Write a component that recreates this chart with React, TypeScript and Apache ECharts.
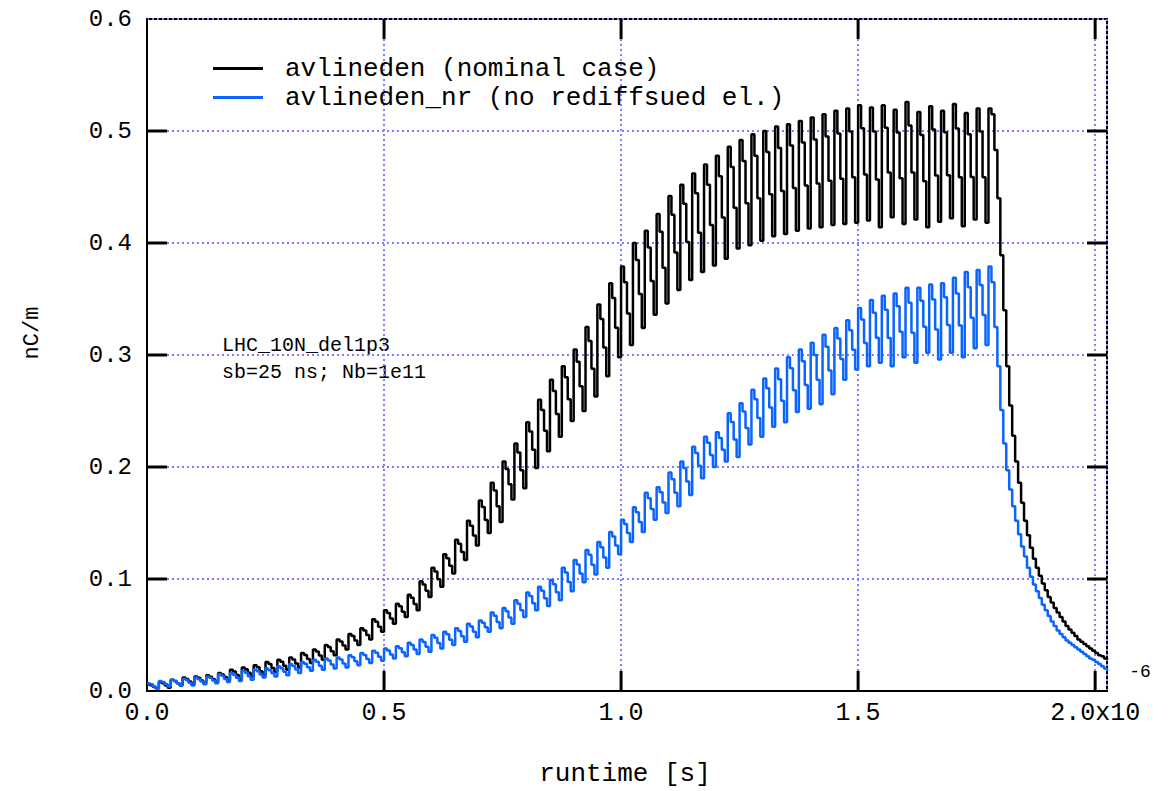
import React, { useEffect, useRef } from 'react';
import * as echarts from 'echarts';

// time axis in microseconds (labels show x10^-6 s)
const X_MIN = 0;
const X_MAX = 2.025;
const Y_MIN = 0;
const Y_MAX = 0.6;
const X_TICKS = [0.5, 1.0, 1.5, 2.0];
const Y_TICKS = [0.1, 0.2, 0.3, 0.4, 0.5];
const BUNCH_SPACING = 0.025; // 25 ns
const SAMPLE_STEP = 0.00625; // 4 samples per bunch
// shape of one bunch period (fraction of peak-trough height)
const BUNCH_PROFILE = [1, 0.8, 0.4, 0];

const SERIES_NAMES = ['avlineden (nominal case)', 'avlineden_nr (no rediffsued el.)'];

const blackPeak = [
  0.006, 0.008, 0.010, 0.012, 0.013, 0.014, 0.016, 0.019, 0.021, 0.023,
  0.026, 0.028, 0.030, 0.034, 0.037, 0.041, 0.046, 0.051, 0.056, 0.064,
  0.072, 0.078, 0.086, 0.098, 0.110, 0.122, 0.135, 0.152, 0.170, 0.186,
  0.205, 0.221, 0.240, 0.260, 0.278, 0.290, 0.305, 0.325, 0.345, 0.364,
  0.379, 0.400, 0.411, 0.426, 0.442, 0.452, 0.462, 0.470, 0.478, 0.486,
  0.492, 0.497, 0.500, 0.504, 0.506, 0.509, 0.512, 0.515, 0.518, 0.520,
  0.523, 0.521, 0.523, 0.519, 0.526, 0.517, 0.522, 0.518, 0.524, 0.516, 0.520,
];
const blackTrough = [
  0.002, 0.003, 0.005, 0.006, 0.007, 0.008, 0.010, 0.011, 0.013, 0.014,
  0.017, 0.019, 0.021, 0.025, 0.028, 0.032, 0.037, 0.041, 0.046, 0.053,
  0.060, 0.066, 0.072, 0.084, 0.093, 0.105, 0.117, 0.130, 0.141, 0.151,
  0.171, 0.181, 0.199, 0.214, 0.227, 0.241, 0.250, 0.263, 0.281, 0.298,
  0.309, 0.324, 0.336, 0.346, 0.358, 0.367, 0.374, 0.380, 0.386, 0.395,
  0.398, 0.402, 0.406, 0.408, 0.411, 0.413, 0.414, 0.416, 0.417, 0.418,
  0.420, 0.414, 0.423, 0.417, 0.421, 0.414, 0.419, 0.422, 0.415, 0.421, 0.418,
];
const blackTail = [
  0.520, 0.515, 0.483, 0.440, 0.389, 0.340, 0.290, 0.255, 0.228, 0.205,
  0.186, 0.168, 0.152, 0.139, 0.128, 0.118, 0.110, 0.103, 0.096, 0.090,
  0.084, 0.079, 0.074, 0.070, 0.066, 0.062, 0.058, 0.055, 0.052, 0.049,
  0.046, 0.044, 0.042, 0.040, 0.038, 0.036, 0.034, 0.032, 0.031, 0.029, 0.028,
];

const bluePeak = [
  0.007, 0.009, 0.010, 0.011, 0.012, 0.013, 0.015, 0.016, 0.018, 0.019,
  0.020, 0.022, 0.024, 0.026, 0.028, 0.029, 0.030, 0.032, 0.034, 0.036,
  0.038, 0.040, 0.043, 0.046, 0.050, 0.053, 0.056, 0.060, 0.063, 0.070,
  0.074, 0.081, 0.088, 0.093, 0.099, 0.110, 0.117, 0.126, 0.133, 0.142,
  0.153, 0.164, 0.177, 0.182, 0.195, 0.205, 0.218, 0.227, 0.231, 0.248,
  0.257, 0.269, 0.279, 0.288, 0.298, 0.305, 0.311, 0.318, 0.324, 0.331,
  0.342, 0.349, 0.353, 0.355, 0.360, 0.360, 0.363, 0.364, 0.369, 0.374, 0.376,
];
const blueTrough = [
  0.002, 0.004, 0.005, 0.005, 0.006, 0.007, 0.008, 0.009, 0.010, 0.012,
  0.013, 0.014, 0.016, 0.018, 0.019, 0.020, 0.021, 0.023, 0.025, 0.027,
  0.029, 0.031, 0.033, 0.035, 0.038, 0.041, 0.044, 0.048, 0.053, 0.056,
  0.060, 0.066, 0.072, 0.076, 0.081, 0.089, 0.097, 0.104, 0.110, 0.122,
  0.133, 0.142, 0.153, 0.159, 0.165, 0.175, 0.190, 0.200, 0.205, 0.209,
  0.220, 0.227, 0.236, 0.240, 0.249, 0.252, 0.256, 0.265, 0.278, 0.287,
  0.290, 0.293, 0.290, 0.298, 0.293, 0.302, 0.296, 0.302, 0.298, 0.306, 0.309,
];
const blueTail = [
  0.379, 0.365, 0.325, 0.290, 0.251, 0.221, 0.197, 0.180, 0.165, 0.152,
  0.140, 0.129, 0.120, 0.110, 0.102, 0.095, 0.089, 0.083, 0.077, 0.072,
  0.067, 0.062, 0.058, 0.054, 0.051, 0.048, 0.045, 0.043, 0.041, 0.039,
  0.037, 0.035, 0.033, 0.031, 0.029, 0.028, 0.026, 0.024, 0.022, 0.020, 0.018,
];

const FONT = '"Liberation Mono", "DejaVu Sans Mono", monospace';
const TICK_LEN = 20;

function r(t: number) {
  return Math.round(t * 1e6) / 1e6;
}

function buildSeries(peaks: number[], troughs: number[], tail: number[]) {
  const pts: number[][] = [];
  for (let i = 0; i < peaks.length; i++) {
    for (let k = 0; k < BUNCH_PROFILE.length; k++) {
      const t = i * BUNCH_SPACING + k * SAMPLE_STEP;
      pts.push([r(t), troughs[i] + BUNCH_PROFILE[k] * (peaks[i] - troughs[i])]);
    }
  }
  const t0 = peaks.length * BUNCH_SPACING;
  tail.forEach((v, j) => pts.push([r(t0 + j * SAMPLE_STEP), v]));
  return pts;
}

const frameLine = () => ({ show: true, onZero: false, lineStyle: { color: '#000', width: 2 } });
const gridLine = () => ({ show: true, lineStyle: { color: '#7f7fff', width: 2, type: [2, 3] } });

function textEl(text: string, x: number, y: number, size: number, align: string, extra: any = {}) {
  return {
    type: 'text',
    x,
    y,
    ...extra,
    style: { text, font: `${size}px ${FONT}`, fill: '#000', align, verticalAlign: 'middle' },
  };
}

export default function App() {
  const ref = useRef<HTMLDivElement>(null);
  useEffect(() => {
    if (!ref.current) return;
    const chart = echarts.init(ref.current, null, { renderer: 'svg' });
    const texts = [
      textEl('LHC_10N_del1p3', 222, 345, 20, 'left'),
      textEl('sb=25 ns; Nb=1e11', 222, 372, 20, 'left'),
      textEl('runtime [s]', 625, 774, 26, 'center'),
      textEl('nC/m', 32, 333, 22, 'center', { rotation: Math.PI / 2 }),
      textEl('-6', 1140, 672, 18, 'center'),
    ];
    const option: any = {
      animation: false,
      backgroundColor: '#fff',
      grid: {
        left: 147,
        top: 19,
        width: 960,
        height: 672,
        containLabel: false,
        show: true,
        borderColor: '#000',
        borderWidth: 2,
        backgroundColor: 'transparent',
      },
      legend: {
        data: SERIES_NAMES,
        orient: 'vertical',
        left: 213,
        top: 54,
        padding: 0,
        itemGap: 0,
        icon: 'rect',
        itemWidth: 50,
        itemHeight: 3,
        textStyle: {
          fontFamily: FONT,
          fontSize: 26,
          color: '#000',
          lineHeight: 29,
          padding: [0, 0, 0, 17],
        },
      },
      xAxis: {
        type: 'value',
        min: X_MIN,
        max: X_MAX,
        interval: 0.5,
        position: 'bottom',
        axisLine: frameLine(),
        axisTick: { show: false },
        axisLabel: {
          fontFamily: FONT,
          fontSize: 25,
          color: '#000',
          margin: 10,
          formatter: (v: number) =>
            Math.abs(v - 2) < 1e-9 ? '2.0x10' : v > 2 ? '' : v.toFixed(1),
        },
        splitLine: gridLine(),
      },
      yAxis: {
        type: 'value',
        min: Y_MIN,
        max: Y_MAX,
        interval: 0.1,
        position: 'left',
        axisLine: frameLine(),
        axisTick: { show: false },
        axisLabel: {
          fontFamily: FONT,
          fontSize: 24,
          color: '#000',
          margin: 15,
          formatter: (v: number) => v.toFixed(1),
        },
        splitLine: gridLine(),
      },
      series: [
        {
          name: SERIES_NAMES[0],
          type: 'line',
          step: 'end',
          showSymbol: false,
          symbol: 'none',
          data: buildSeries(blackPeak, blackTrough, blackTail),
          lineStyle: { color: '#000', width: 2.5 },
          itemStyle: { color: '#000' },
          z: 3,
        },
        {
          name: SERIES_NAMES[1],
          type: 'line',
          step: 'end',
          showSymbol: false,
          symbol: 'none',
          data: buildSeries(bluePeak, blueTrough, blueTail),
          lineStyle: { color: '#0a64ff', width: 2.5 },
          itemStyle: { color: '#0a64ff' },
          z: 4,
        },
      ],
      graphic: texts,
    };
    chart.setOption(option);

    // inward frame ticks on all four edges, placed through the axes' scales, drawn above the grid lines
    try {
      const ticks: any[] = [];
      const tickStyle = { stroke: '#000', lineWidth: 3 };
      X_TICKS.forEach((x) => {
        const b = chart.convertToPixel({ gridIndex: 0 }, [x, Y_MIN]) as number[];
        const t = chart.convertToPixel({ gridIndex: 0 }, [x, Y_MAX]) as number[];
        ticks.push({ type: 'line', z: 100, silent: true, shape: { x1: b[0], y1: b[1], x2: b[0], y2: b[1] - TICK_LEN }, style: tickStyle });
        ticks.push({ type: 'line', z: 100, silent: true, shape: { x1: t[0], y1: t[1], x2: t[0], y2: t[1] + TICK_LEN }, style: tickStyle });
      });
      Y_TICKS.forEach((y) => {
        const lft = chart.convertToPixel({ gridIndex: 0 }, [X_MIN, y]) as number[];
        const rgt = chart.convertToPixel({ gridIndex: 0 }, [X_MAX, y]) as number[];
        ticks.push({ type: 'line', z: 100, silent: true, shape: { x1: lft[0], y1: lft[1], x2: lft[0] + TICK_LEN, y2: lft[1] }, style: tickStyle });
        ticks.push({ type: 'line', z: 100, silent: true, shape: { x1: rgt[0], y1: rgt[1], x2: rgt[0] - TICK_LEN, y2: rgt[1] }, style: tickStyle });
      });
      chart.setOption({ graphic: [...texts, ...ticks] });
    } catch (e) {
      // keep the chart as drawn if conversion fails
    }
    return () => chart.dispose();
  }, []);
  return (
    <div
      ref={ref}
      style={{ position: 'fixed', left: 0, top: 0, width: 1171, height: 791, background: '#fff' }}
    />
  );
}
